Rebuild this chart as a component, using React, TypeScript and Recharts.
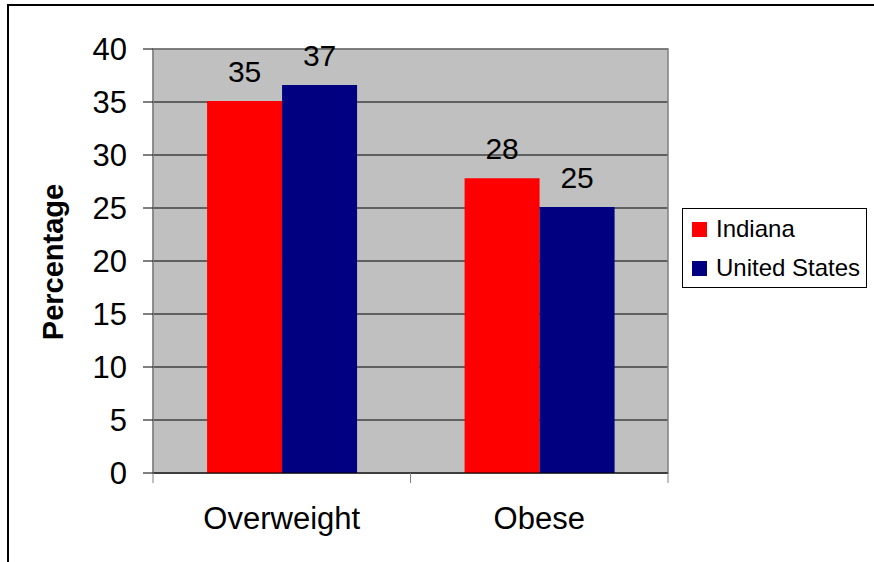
import { Bar, BarChart, CartesianGrid, LabelList, Legend, ReferenceArea, XAxis, YAxis } from "recharts";

const categories = ["Overweight", "Obese"];
const indiana = [35.1, 27.8];
const unitedStates = [36.6, 25.1];
const yTicks = [0, 5, 10, 15, 20, 25, 30, 35, 40];

const data = categories.map((name, i) => ({
	name,
	indiana: indiana[i],
	us: unitedStates[i],
}));

const FONT = "'Liberation Sans', Arial, sans-serif";
const RED = "#ff0000";
const NAVY = "#000080";

const CategoryTick = (props: any) => {
	const { x, y, payload, index, visibleTicksCount } = props;
	const half = payload && payload.offset ? payload.offset : 128.75;
	return (
		<g>
			<line x1={x - half} y1={y - 8} x2={x - half} y2={y + 2} stroke="#808080" />
			{index === visibleTicksCount - 1 && (
				<line x1={x + half} y1={y - 8} x2={x + half} y2={y + 2} stroke="#808080" />
			)}
			<text x={x} y={y + 48} textAnchor="middle" fontSize={31} fill="#000" fontFamily={FONT}>
				{payload.value}
			</text>
		</g>
	);
};

const LegendBox = () => (
	<div
		style={{
			width: 185,
			height: 80,
			border: "1px solid #000",
			background: "#fff",
			fontFamily: FONT,
			fontSize: 24,
			boxSizing: "border-box",
			position: "relative",
		}}
	>
		{[
			{ label: "Indiana", color: RED, top: 8 },
			{ label: "United States", color: NAVY, top: 47 },
		].map((item) => (
			<div key={item.label} style={{ position: "absolute", left: 9, top: item.top, display: "flex", alignItems: "center" }}>
				<span style={{ width: 15, height: 15, background: item.color, display: "inline-block", marginRight: 9 }} />
				<span style={{ lineHeight: "24px", whiteSpace: "nowrap" }}>{item.label}</span>
			</div>
		))}
	</div>
);

export default function App() {
	return (
		<div style={{ position: "absolute", left: 0, top: 0, width: 874, height: 562, background: "#fff", overflow: "hidden" }}>
			<div
				style={{
					position: "absolute",
					left: 7,
					top: 4,
					width: 900,
					height: 600,
					borderLeft: "2px solid #000",
					borderTop: "2px solid #000",
				}}
			/>
			<div style={{ position: "absolute", left: 0, top: 0 }}>
				<BarChart
					width={874}
					height={562}
					data={data}
					margin={{ top: 49, right: 206, bottom: 29, left: 93 }}
					barCategoryGap="21%"
					barGap={0}
				>
					<CartesianGrid fill="#c0c0c0" stroke="#000" vertical={false} strokeOpacity={1} />
					<ReferenceArea y1={0} y2={40} fill="none" stroke="#808080" strokeWidth={1.5} ifOverflow="visible" />
					<XAxis
						dataKey="name"
						height={60}
						axisLine={{ stroke: "#000" }}
						tickLine={false}
						tick={<CategoryTick />}
						interval={0}
					/>
					<YAxis
						width={60}
						domain={[0, 40]}
						ticks={yTicks}
						interval={0}
						axisLine={{ stroke: "#808080" }}
						tickLine={{ stroke: "#000" }}
						tickSize={10}
						tickMargin={16}
						tick={{ fontSize: 31, fill: "#000", fontFamily: FONT }}
						label={{
							content: () => (
								<text
									x={63}
									y={262}
									transform="rotate(-90, 63, 262)"
									textAnchor="middle"
									fontSize={29}
									fontWeight="bold"
									fontFamily={FONT}
									fill="#000"
								>
									Percentage
								</text>
							),
						}}
					/>
					<Legend
						layout="horizontal"
						align="center"
						verticalAlign="middle"
						wrapperStyle={{ left: 682, top: 208, width: 185, height: 80 }}
						content={() => <LegendBox />}
					/>
					<Bar dataKey="indiana" name="Indiana" fill={RED} isAnimationActive={false}>
						<LabelList
							dataKey="indiana"
							position="top"
							offset={19}
							formatter={(v: any) => Math.round(Number(v))}
							style={{ fontSize: 30, fill: "#000", fontFamily: FONT }}
						/>
					</Bar>
					<Bar dataKey="us" name="United States" fill={NAVY} isAnimationActive={false}>
						<LabelList
							dataKey="us"
							position="top"
							offset={19}
							formatter={(v: any) => Math.round(Number(v))}
							style={{ fontSize: 30, fill: "#000", fontFamily: FONT }}
						/>
					</Bar>
				</BarChart>
			</div>
		</div>
	);
}
